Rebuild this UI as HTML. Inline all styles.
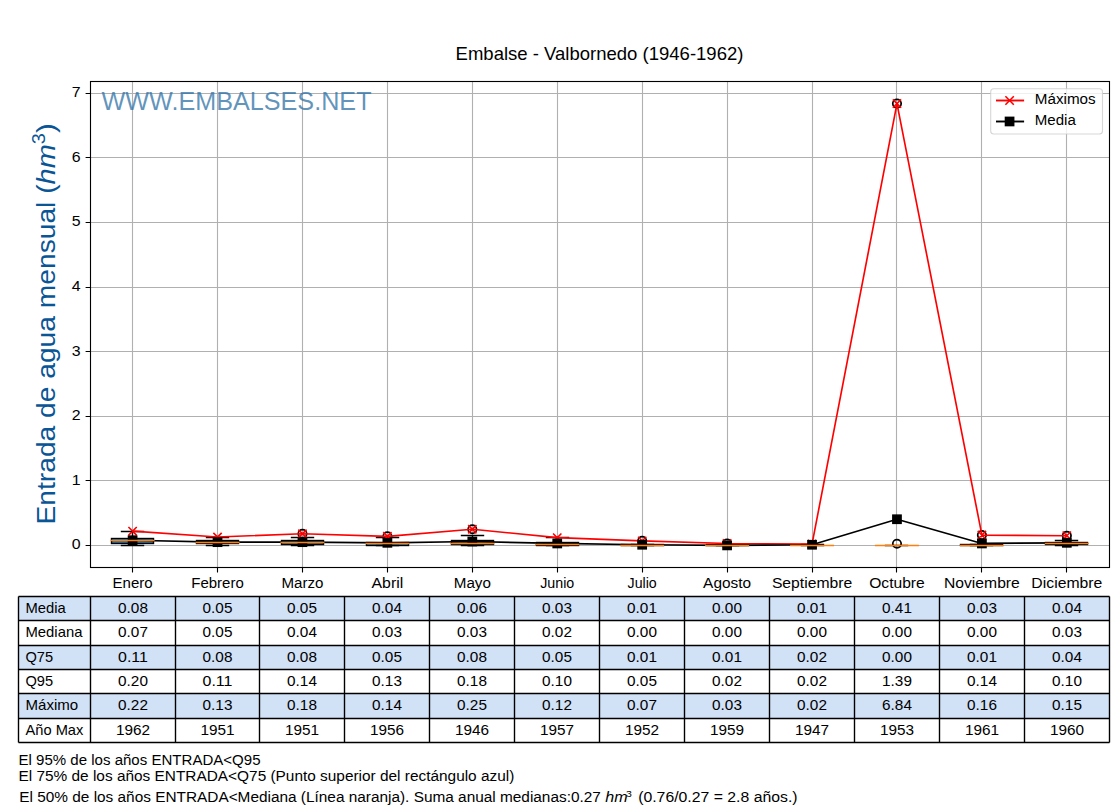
<!DOCTYPE html><html><head><meta charset="utf-8"><title>Embalse - Valbornedo</title><style>html,body{margin:0;padding:0;background:#fff;overflow:hidden;}svg{display:block;}text{font-family:"Liberation Sans",sans-serif;}</style></head><body>
<svg width="1120" height="810" viewBox="0 0 1120 810">
<rect x="0" y="0" width="1120" height="810" fill="#fff"/>
<text x="599.50" y="60.00" font-size="17.49" text-anchor="middle" fill="#000" textLength="287.86" lengthAdjust="spacingAndGlyphs">Embalse - Valbornedo (1946-1962)</text>
<path d="M132.5 81.5V567.5M217.5 81.5V567.5M302.5 81.5V567.5M387.5 81.5V567.5M472.5 81.5V567.5M557.5 81.5V567.5M642.5 81.5V567.5M727.5 81.5V567.5M812.5 81.5V567.5M896.5 81.5V567.5M981.5 81.5V567.5M1066.5 81.5V567.5M90.135 545.5H1109.5M90.135 480.5H1109.5M90.135 416.5H1109.5M90.135 351.5H1109.5M90.135 287.5H1109.5M90.135 222.5H1109.5M90.135 157.5H1109.5M90.135 93.5H1109.5" stroke="#b0b0b0" stroke-width="1.11" fill="none"/>
<text x="101.50" y="110.00" font-size="26.50" text-anchor="start" fill="#2f72a6" textLength="270.03" lengthAdjust="spacingAndGlyphs" fill-opacity="0.76">WWW.EMBALSES.NET</text>
<rect x="111.5" y="538.5" width="42" height="5.0" fill="#1f77b4" stroke="#000" stroke-width="1.39"/>
<path d="M132.5 543.5V545.5M132.5 538.5V531.5M121.5 545.5H143.5M121.5 531.5H143.5" stroke="#000" stroke-width="1.39" stroke-linecap="square" fill="none"/>
<rect x="196.5" y="540.5" width="42" height="3.0" fill="#1f77b4" stroke="#000" stroke-width="1.39"/>
<path d="M217.5 543.5V545.5M217.5 540.5V537.5M206.5 545.5H228.5M206.5 537.5H228.5" stroke="#000" stroke-width="1.39" stroke-linecap="square" fill="none"/>
<rect x="281.5" y="540.5" width="42" height="4.0" fill="#1f77b4" stroke="#000" stroke-width="1.39"/>
<path d="M302.5 544.5V545.5M302.5 540.5V537.5M291.5 545.5H313.5M291.5 537.5H313.5" stroke="#000" stroke-width="1.39" stroke-linecap="square" fill="none"/>
<circle cx="302.46" cy="533.77" r="4.2" fill="none" stroke="#000" stroke-width="1.75"/>
<rect x="366.5" y="542.5" width="42" height="3.0" fill="#1f77b4" stroke="#000" stroke-width="1.39"/>
<path d="M387.5 545.5V545.5M387.5 542.5V537.5M376.5 545.5H398.5M376.5 537.5H398.5" stroke="#000" stroke-width="1.39" stroke-linecap="square" fill="none"/>
<circle cx="387.39" cy="536.36" r="4.2" fill="none" stroke="#000" stroke-width="1.75"/>
<rect x="451.5" y="540.5" width="42" height="4.0" fill="#1f77b4" stroke="#000" stroke-width="1.39"/>
<path d="M472.5 544.5V545.5M472.5 540.5V535.5M461.5 545.5H483.5M461.5 535.5H483.5" stroke="#000" stroke-width="1.39" stroke-linecap="square" fill="none"/>
<circle cx="472.32" cy="529.25" r="4.2" fill="none" stroke="#000" stroke-width="1.75"/>
<rect x="536.5" y="542.5" width="42" height="3.0" fill="#1f77b4" stroke="#000" stroke-width="1.39"/>
<path d="M557.5 545.5V545.5M557.5 542.5V537.5M546.5 545.5H568.5M546.5 537.5H568.5" stroke="#000" stroke-width="1.39" stroke-linecap="square" fill="none"/>
<rect x="621.5" y="544.5" width="42" height="1.0" fill="#1f77b4" stroke="#000" stroke-width="1.39"/>
<path d="M642.5 545.5V545.5M642.5 544.5V544.5M631.5 545.5H653.5M631.5 544.5H653.5" stroke="#000" stroke-width="1.39" stroke-linecap="square" fill="none"/>
<circle cx="642.18" cy="540.88" r="4.2" fill="none" stroke="#000" stroke-width="1.75"/>
<rect x="706.5" y="544.5" width="42" height="1.0" fill="#1f77b4" stroke="#000" stroke-width="1.39"/>
<path d="M727.5 545.5V545.5M727.5 544.5V544.5M716.5 545.5H738.5M716.5 544.5H738.5" stroke="#000" stroke-width="1.39" stroke-linecap="square" fill="none"/>
<circle cx="727.11" cy="543.46" r="4.2" fill="none" stroke="#000" stroke-width="1.75"/>
<rect x="791.5" y="545.5" width="42" height="0.0" fill="#1f77b4" stroke="#000" stroke-width="1.39"/>
<path d="M812.5 545.5V545.5M812.5 545.5V544.5M801.5 545.5H823.5M801.5 544.5H823.5" stroke="#000" stroke-width="1.39" stroke-linecap="square" fill="none"/>
<rect x="875.5" y="545.5" width="42" height="0.0" fill="#1f77b4" stroke="#000" stroke-width="1.39"/>
<path d="M896.5 545.5V545.5M896.5 545.5V545.5M885.5 545.5H907.5M885.5 545.5H907.5" stroke="#000" stroke-width="1.39" stroke-linecap="square" fill="none"/>
<circle cx="896.97" cy="543.78" r="4.2" fill="none" stroke="#000" stroke-width="1.75"/>
<circle cx="896.97" cy="103.54" r="4.2" fill="none" stroke="#000" stroke-width="1.75"/>
<rect x="960.5" y="544.5" width="42" height="1.0" fill="#1f77b4" stroke="#000" stroke-width="1.39"/>
<path d="M981.5 545.5V545.5M981.5 544.5V544.5M970.5 545.5H992.5M970.5 544.5H992.5" stroke="#000" stroke-width="1.39" stroke-linecap="square" fill="none"/>
<circle cx="981.90" cy="535.06" r="4.2" fill="none" stroke="#000" stroke-width="1.75"/>
<rect x="1045.5" y="542.5" width="42" height="2.0" fill="#1f77b4" stroke="#000" stroke-width="1.39"/>
<path d="M1066.5 544.5V545.5M1066.5 542.5V540.5M1055.5 545.5H1077.5M1055.5 540.5H1077.5" stroke="#000" stroke-width="1.39" stroke-linecap="square" fill="none"/>
<circle cx="1066.83" cy="535.71" r="4.2" fill="none" stroke="#000" stroke-width="1.75"/>
<polyline points="132.60,531.19 217.53,537.00 302.46,533.77 387.39,536.36 472.32,529.25 557.25,537.65 642.18,540.88 727.11,543.46 812.04,544.11 896.97,103.54 981.90,535.06 1066.83,535.71" fill="none" stroke="#ff0000" stroke-width="1.65" stroke-linejoin="round"/>
<path d="M128.43 527.02L136.77 535.36M128.43 535.36L136.77 527.02M213.36 532.83L221.70 541.17M213.36 541.17L221.70 532.83M298.29 529.60L306.63 537.94M298.29 537.94L306.63 529.60M383.22 532.19L391.56 540.53M383.22 540.53L391.56 532.19M468.15 525.08L476.49 533.42M468.15 533.42L476.49 525.08M553.08 533.48L561.42 541.82M553.08 541.82L561.42 533.48M638.01 536.71L646.35 545.05M638.01 545.05L646.35 536.71M722.94 539.29L731.28 547.63M722.94 547.63L731.28 539.29M807.87 539.94L816.21 548.28M807.87 548.28L816.21 539.94M892.80 99.37L901.14 107.71M892.80 107.71L901.14 99.37M977.73 530.89L986.07 539.23M977.73 539.23L986.07 530.89M1062.66 531.54L1071.00 539.88M1062.66 539.88L1071.00 531.54" stroke="#ff0000" stroke-width="1.6" fill="none"/>
<polyline points="132.60,540.23 217.53,542.17 302.46,542.17 387.39,542.82 472.32,541.52 557.25,543.46 642.18,544.75 727.11,545.40 812.04,544.75 896.97,519.24 981.90,543.46 1066.83,542.82" fill="none" stroke="#000" stroke-width="1.7" stroke-linejoin="round"/>
<rect x="128.43" y="536.06" width="8.34" height="8.34" fill="#000" stroke="#000" stroke-width="1.39"/>
<rect x="213.36" y="538.00" width="8.34" height="8.34" fill="#000" stroke="#000" stroke-width="1.39"/>
<rect x="298.29" y="538.00" width="8.34" height="8.34" fill="#000" stroke="#000" stroke-width="1.39"/>
<rect x="383.22" y="538.65" width="8.34" height="8.34" fill="#000" stroke="#000" stroke-width="1.39"/>
<rect x="468.15" y="537.35" width="8.34" height="8.34" fill="#000" stroke="#000" stroke-width="1.39"/>
<rect x="553.08" y="539.29" width="8.34" height="8.34" fill="#000" stroke="#000" stroke-width="1.39"/>
<rect x="638.01" y="540.58" width="8.34" height="8.34" fill="#000" stroke="#000" stroke-width="1.39"/>
<rect x="722.94" y="541.23" width="8.34" height="8.34" fill="#000" stroke="#000" stroke-width="1.39"/>
<rect x="807.87" y="540.58" width="8.34" height="8.34" fill="#000" stroke="#000" stroke-width="1.39"/>
<rect x="892.80" y="515.07" width="8.34" height="8.34" fill="#000" stroke="#000" stroke-width="1.39"/>
<rect x="977.73" y="539.29" width="8.34" height="8.34" fill="#000" stroke="#000" stroke-width="1.39"/>
<rect x="1062.66" y="538.65" width="8.34" height="8.34" fill="#000" stroke="#000" stroke-width="1.39"/>
<path d="M111.37 540.5H153.83M196.30 542.5H238.76M281.23 542.5H323.69M366.16 543.5H408.62M451.09 543.5H493.55M536.02 544.5H578.48M620.95 545.5H663.41M705.88 545.5H748.34M790.81 545.5H833.27M875.74 545.5H918.20M960.67 545.5H1003.13M1045.60 543.5H1088.06" stroke="#ff7f0e" stroke-width="1.5" stroke-linecap="square" fill="none"/>
<rect x="90.5" y="81.5" width="1019" height="486.0" fill="none" stroke="#000" stroke-width="1.11"/>
<path d="M85.6 545.5H90.5M85.6 480.5H90.5M85.6 416.5H90.5M85.6 351.5H90.5M85.6 287.5H90.5M85.6 222.5H90.5M85.6 157.5H90.5M85.6 93.5H90.5M132.5 567.5V572.40M217.5 567.5V572.40M302.5 567.5V572.40M387.5 567.5V572.40M472.5 567.5V572.40M557.5 567.5V572.40M642.5 567.5V572.40M727.5 567.5V572.40M812.5 567.5V572.40M896.5 567.5V572.40M981.5 567.5V572.40M1066.5 567.5V572.40" stroke="#000" stroke-width="1.11" fill="none"/>
<text x="80.50" y="549.40" font-size="14.72" text-anchor="end" fill="#000" textLength="8.84" lengthAdjust="spacingAndGlyphs">0</text>
<text x="80.50" y="484.80" font-size="14.72" text-anchor="end" fill="#000" textLength="8.84" lengthAdjust="spacingAndGlyphs">1</text>
<text x="80.50" y="420.20" font-size="14.72" text-anchor="end" fill="#000" textLength="8.84" lengthAdjust="spacingAndGlyphs">2</text>
<text x="80.50" y="355.60" font-size="14.72" text-anchor="end" fill="#000" textLength="8.84" lengthAdjust="spacingAndGlyphs">3</text>
<text x="80.50" y="291.00" font-size="14.72" text-anchor="end" fill="#000" textLength="8.84" lengthAdjust="spacingAndGlyphs">4</text>
<text x="80.50" y="226.40" font-size="14.72" text-anchor="end" fill="#000" textLength="8.84" lengthAdjust="spacingAndGlyphs">5</text>
<text x="80.50" y="161.80" font-size="14.72" text-anchor="end" fill="#000" textLength="8.84" lengthAdjust="spacingAndGlyphs">6</text>
<text x="80.50" y="97.20" font-size="14.72" text-anchor="end" fill="#000" textLength="8.84" lengthAdjust="spacingAndGlyphs">7</text>
<text x="132.60" y="588.00" font-size="14.72" text-anchor="middle" fill="#000" textLength="40.03" lengthAdjust="spacingAndGlyphs">Enero</text>
<text x="217.53" y="588.00" font-size="14.72" text-anchor="middle" fill="#000" textLength="52.45" lengthAdjust="spacingAndGlyphs">Febrero</text>
<text x="302.46" y="588.00" font-size="14.72" text-anchor="middle" fill="#000" textLength="42.00" lengthAdjust="spacingAndGlyphs">Marzo</text>
<text x="387.39" y="588.00" font-size="14.72" text-anchor="middle" fill="#000" textLength="31.75" lengthAdjust="spacingAndGlyphs">Abril</text>
<text x="472.32" y="588.00" font-size="14.72" text-anchor="middle" fill="#000" textLength="37.21" lengthAdjust="spacingAndGlyphs">Mayo</text>
<text x="557.25" y="588.00" font-size="14.72" text-anchor="middle" fill="#000" textLength="34.06" lengthAdjust="spacingAndGlyphs">Junio</text>
<text x="642.18" y="588.00" font-size="14.72" text-anchor="middle" fill="#000" textLength="29.12" lengthAdjust="spacingAndGlyphs">Julio</text>
<text x="727.11" y="588.00" font-size="14.72" text-anchor="middle" fill="#000" textLength="48.00" lengthAdjust="spacingAndGlyphs">Agosto</text>
<text x="812.04" y="588.00" font-size="14.72" text-anchor="middle" fill="#000" textLength="80.33" lengthAdjust="spacingAndGlyphs">Septiembre</text>
<text x="896.97" y="588.00" font-size="14.72" text-anchor="middle" fill="#000" textLength="55.59" lengthAdjust="spacingAndGlyphs">Octubre</text>
<text x="981.90" y="588.00" font-size="14.72" text-anchor="middle" fill="#000" textLength="75.81" lengthAdjust="spacingAndGlyphs">Noviembre</text>
<text x="1066.83" y="588.00" font-size="14.72" text-anchor="middle" fill="#000" textLength="70.90" lengthAdjust="spacingAndGlyphs">Diciembre</text>
<g transform="translate(55,524.5) rotate(-90)">
<text x="0.00" y="0.00" font-size="26.50" text-anchor="start" fill="#0a5596" textLength="340.10" lengthAdjust="spacingAndGlyphs">Entrada de agua mensual (</text>
<text x="340.10" y="0.00" font-size="26.50" text-anchor="start" fill="#0a5596" textLength="40.20" lengthAdjust="spacingAndGlyphs" font-style="italic">hm</text>
<text x="380.30" y="-10.00" font-size="18.55" text-anchor="start" fill="#0a5596" textLength="11.13" lengthAdjust="spacingAndGlyphs">3</text>
<text x="391.43" y="0.00" font-size="26.50" text-anchor="start" fill="#0a5596" textLength="9.75" lengthAdjust="spacingAndGlyphs">)</text>
</g>
<rect x="990.7" y="88.7" width="111.8" height="45.3" rx="3" ry="3" fill="#fff" fill-opacity="0.8" stroke="#cccccc" stroke-opacity="0.8" stroke-width="1.1"/>
<path d="M996 100.5H1024.1" stroke="#ff0000" stroke-width="1.9"/>
<path d="M1005.4 96.3L1013.8 104.7M1005.4 104.7L1013.8 96.3" stroke="#ff0000" stroke-width="1.6"/>
<text x="1034.80" y="104.20" font-size="14.72" text-anchor="start" fill="#000" textLength="60.84" lengthAdjust="spacingAndGlyphs">Máximos</text>
<path d="M996 121.5H1024.1" stroke="#000" stroke-width="1.9"/>
<rect x="1005.4" y="117.3" width="8.34" height="8.34" fill="#000" stroke="#000" stroke-width="1.39"/>
<text x="1034.80" y="125.00" font-size="14.72" text-anchor="start" fill="#000" textLength="41.02" lengthAdjust="spacingAndGlyphs">Media</text>
<rect x="18.50" y="596.5" width="1091.00" height="24.00" fill="#d1e1f6"/>
<rect x="18.50" y="620.5" width="1091.00" height="25.00" fill="#ffffff"/>
<rect x="18.50" y="645.5" width="1091.00" height="24.00" fill="#d1e1f6"/>
<rect x="18.50" y="669.5" width="1091.00" height="24.00" fill="#ffffff"/>
<rect x="18.50" y="693.5" width="1091.00" height="25.00" fill="#d1e1f6"/>
<rect x="18.50" y="718.5" width="1091.00" height="24.00" fill="#ffffff"/>
<path d="M18.50 596.5H1109.50M18.50 620.5H1109.50M18.50 645.5H1109.50M18.50 669.5H1109.50M18.50 693.5H1109.50M18.50 718.5H1109.50M18.50 742.5H1109.50M18.50 596.5V742.5M90.50 596.5V742.5M175.50 596.5V742.5M259.50 596.5V742.5M344.50 596.5V742.5M429.50 596.5V742.5M514.50 596.5V742.5M599.50 596.5V742.5M684.50 596.5V742.5M769.50 596.5V742.5M854.50 596.5V742.5M939.50 596.5V742.5M1024.50 596.5V742.5M1109.50 596.5V742.5" stroke="#000" stroke-width="1.39" fill="none"/>
<text x="25.50" y="612.50" font-size="14.20" text-anchor="start" fill="#000" textLength="40.25" lengthAdjust="spacingAndGlyphs">Media</text>
<text x="133.00" y="612.50" font-size="14.20" text-anchor="middle" fill="#000" textLength="29.84" lengthAdjust="spacingAndGlyphs">0.08</text>
<text x="217.50" y="612.50" font-size="14.20" text-anchor="middle" fill="#000" textLength="29.84" lengthAdjust="spacingAndGlyphs">0.05</text>
<text x="302.00" y="612.50" font-size="14.20" text-anchor="middle" fill="#000" textLength="29.84" lengthAdjust="spacingAndGlyphs">0.05</text>
<text x="387.00" y="612.50" font-size="14.20" text-anchor="middle" fill="#000" textLength="29.84" lengthAdjust="spacingAndGlyphs">0.04</text>
<text x="472.00" y="612.50" font-size="14.20" text-anchor="middle" fill="#000" textLength="29.84" lengthAdjust="spacingAndGlyphs">0.06</text>
<text x="557.00" y="612.50" font-size="14.20" text-anchor="middle" fill="#000" textLength="29.84" lengthAdjust="spacingAndGlyphs">0.03</text>
<text x="642.00" y="612.50" font-size="14.20" text-anchor="middle" fill="#000" textLength="29.84" lengthAdjust="spacingAndGlyphs">0.01</text>
<text x="727.00" y="612.50" font-size="14.20" text-anchor="middle" fill="#000" textLength="29.84" lengthAdjust="spacingAndGlyphs">0.00</text>
<text x="812.00" y="612.50" font-size="14.20" text-anchor="middle" fill="#000" textLength="29.84" lengthAdjust="spacingAndGlyphs">0.01</text>
<text x="897.00" y="612.50" font-size="14.20" text-anchor="middle" fill="#000" textLength="29.84" lengthAdjust="spacingAndGlyphs">0.41</text>
<text x="982.00" y="612.50" font-size="14.20" text-anchor="middle" fill="#000" textLength="29.84" lengthAdjust="spacingAndGlyphs">0.03</text>
<text x="1067.00" y="612.50" font-size="14.20" text-anchor="middle" fill="#000" textLength="29.84" lengthAdjust="spacingAndGlyphs">0.04</text>
<text x="25.50" y="636.50" font-size="14.20" text-anchor="start" fill="#000" textLength="56.95" lengthAdjust="spacingAndGlyphs">Mediana</text>
<text x="133.00" y="636.50" font-size="14.20" text-anchor="middle" fill="#000" textLength="29.84" lengthAdjust="spacingAndGlyphs">0.07</text>
<text x="217.50" y="636.50" font-size="14.20" text-anchor="middle" fill="#000" textLength="29.84" lengthAdjust="spacingAndGlyphs">0.05</text>
<text x="302.00" y="636.50" font-size="14.20" text-anchor="middle" fill="#000" textLength="29.84" lengthAdjust="spacingAndGlyphs">0.04</text>
<text x="387.00" y="636.50" font-size="14.20" text-anchor="middle" fill="#000" textLength="29.84" lengthAdjust="spacingAndGlyphs">0.03</text>
<text x="472.00" y="636.50" font-size="14.20" text-anchor="middle" fill="#000" textLength="29.84" lengthAdjust="spacingAndGlyphs">0.03</text>
<text x="557.00" y="636.50" font-size="14.20" text-anchor="middle" fill="#000" textLength="29.84" lengthAdjust="spacingAndGlyphs">0.02</text>
<text x="642.00" y="636.50" font-size="14.20" text-anchor="middle" fill="#000" textLength="29.84" lengthAdjust="spacingAndGlyphs">0.00</text>
<text x="727.00" y="636.50" font-size="14.20" text-anchor="middle" fill="#000" textLength="29.84" lengthAdjust="spacingAndGlyphs">0.00</text>
<text x="812.00" y="636.50" font-size="14.20" text-anchor="middle" fill="#000" textLength="29.84" lengthAdjust="spacingAndGlyphs">0.00</text>
<text x="897.00" y="636.50" font-size="14.20" text-anchor="middle" fill="#000" textLength="29.84" lengthAdjust="spacingAndGlyphs">0.00</text>
<text x="982.00" y="636.50" font-size="14.20" text-anchor="middle" fill="#000" textLength="29.84" lengthAdjust="spacingAndGlyphs">0.00</text>
<text x="1067.00" y="636.50" font-size="14.20" text-anchor="middle" fill="#000" textLength="29.84" lengthAdjust="spacingAndGlyphs">0.03</text>
<text x="25.50" y="661.50" font-size="14.20" text-anchor="start" fill="#000" textLength="27.60" lengthAdjust="spacingAndGlyphs">Q75</text>
<text x="133.00" y="661.50" font-size="14.20" text-anchor="middle" fill="#000" textLength="29.84" lengthAdjust="spacingAndGlyphs">0.11</text>
<text x="217.50" y="661.50" font-size="14.20" text-anchor="middle" fill="#000" textLength="29.84" lengthAdjust="spacingAndGlyphs">0.08</text>
<text x="302.00" y="661.50" font-size="14.20" text-anchor="middle" fill="#000" textLength="29.84" lengthAdjust="spacingAndGlyphs">0.08</text>
<text x="387.00" y="661.50" font-size="14.20" text-anchor="middle" fill="#000" textLength="29.84" lengthAdjust="spacingAndGlyphs">0.05</text>
<text x="472.00" y="661.50" font-size="14.20" text-anchor="middle" fill="#000" textLength="29.84" lengthAdjust="spacingAndGlyphs">0.08</text>
<text x="557.00" y="661.50" font-size="14.20" text-anchor="middle" fill="#000" textLength="29.84" lengthAdjust="spacingAndGlyphs">0.05</text>
<text x="642.00" y="661.50" font-size="14.20" text-anchor="middle" fill="#000" textLength="29.84" lengthAdjust="spacingAndGlyphs">0.01</text>
<text x="727.00" y="661.50" font-size="14.20" text-anchor="middle" fill="#000" textLength="29.84" lengthAdjust="spacingAndGlyphs">0.01</text>
<text x="812.00" y="661.50" font-size="14.20" text-anchor="middle" fill="#000" textLength="29.84" lengthAdjust="spacingAndGlyphs">0.02</text>
<text x="897.00" y="661.50" font-size="14.20" text-anchor="middle" fill="#000" textLength="29.84" lengthAdjust="spacingAndGlyphs">0.00</text>
<text x="982.00" y="661.50" font-size="14.20" text-anchor="middle" fill="#000" textLength="29.84" lengthAdjust="spacingAndGlyphs">0.01</text>
<text x="1067.00" y="661.50" font-size="14.20" text-anchor="middle" fill="#000" textLength="29.84" lengthAdjust="spacingAndGlyphs">0.04</text>
<text x="25.50" y="685.50" font-size="14.20" text-anchor="start" fill="#000" textLength="27.60" lengthAdjust="spacingAndGlyphs">Q95</text>
<text x="133.00" y="685.50" font-size="14.20" text-anchor="middle" fill="#000" textLength="29.84" lengthAdjust="spacingAndGlyphs">0.20</text>
<text x="217.50" y="685.50" font-size="14.20" text-anchor="middle" fill="#000" textLength="29.84" lengthAdjust="spacingAndGlyphs">0.11</text>
<text x="302.00" y="685.50" font-size="14.20" text-anchor="middle" fill="#000" textLength="29.84" lengthAdjust="spacingAndGlyphs">0.14</text>
<text x="387.00" y="685.50" font-size="14.20" text-anchor="middle" fill="#000" textLength="29.84" lengthAdjust="spacingAndGlyphs">0.13</text>
<text x="472.00" y="685.50" font-size="14.20" text-anchor="middle" fill="#000" textLength="29.84" lengthAdjust="spacingAndGlyphs">0.18</text>
<text x="557.00" y="685.50" font-size="14.20" text-anchor="middle" fill="#000" textLength="29.84" lengthAdjust="spacingAndGlyphs">0.10</text>
<text x="642.00" y="685.50" font-size="14.20" text-anchor="middle" fill="#000" textLength="29.84" lengthAdjust="spacingAndGlyphs">0.05</text>
<text x="727.00" y="685.50" font-size="14.20" text-anchor="middle" fill="#000" textLength="29.84" lengthAdjust="spacingAndGlyphs">0.02</text>
<text x="812.00" y="685.50" font-size="14.20" text-anchor="middle" fill="#000" textLength="29.84" lengthAdjust="spacingAndGlyphs">0.02</text>
<text x="897.00" y="685.50" font-size="14.20" text-anchor="middle" fill="#000" textLength="29.84" lengthAdjust="spacingAndGlyphs">1.39</text>
<text x="982.00" y="685.50" font-size="14.20" text-anchor="middle" fill="#000" textLength="29.84" lengthAdjust="spacingAndGlyphs">0.14</text>
<text x="1067.00" y="685.50" font-size="14.20" text-anchor="middle" fill="#000" textLength="29.84" lengthAdjust="spacingAndGlyphs">0.10</text>
<text x="25.50" y="709.50" font-size="14.20" text-anchor="start" fill="#000" textLength="52.68" lengthAdjust="spacingAndGlyphs">Máximo</text>
<text x="133.00" y="709.50" font-size="14.20" text-anchor="middle" fill="#000" textLength="29.84" lengthAdjust="spacingAndGlyphs">0.22</text>
<text x="217.50" y="709.50" font-size="14.20" text-anchor="middle" fill="#000" textLength="29.84" lengthAdjust="spacingAndGlyphs">0.13</text>
<text x="302.00" y="709.50" font-size="14.20" text-anchor="middle" fill="#000" textLength="29.84" lengthAdjust="spacingAndGlyphs">0.18</text>
<text x="387.00" y="709.50" font-size="14.20" text-anchor="middle" fill="#000" textLength="29.84" lengthAdjust="spacingAndGlyphs">0.14</text>
<text x="472.00" y="709.50" font-size="14.20" text-anchor="middle" fill="#000" textLength="29.84" lengthAdjust="spacingAndGlyphs">0.25</text>
<text x="557.00" y="709.50" font-size="14.20" text-anchor="middle" fill="#000" textLength="29.84" lengthAdjust="spacingAndGlyphs">0.12</text>
<text x="642.00" y="709.50" font-size="14.20" text-anchor="middle" fill="#000" textLength="29.84" lengthAdjust="spacingAndGlyphs">0.07</text>
<text x="727.00" y="709.50" font-size="14.20" text-anchor="middle" fill="#000" textLength="29.84" lengthAdjust="spacingAndGlyphs">0.03</text>
<text x="812.00" y="709.50" font-size="14.20" text-anchor="middle" fill="#000" textLength="29.84" lengthAdjust="spacingAndGlyphs">0.02</text>
<text x="897.00" y="709.50" font-size="14.20" text-anchor="middle" fill="#000" textLength="29.84" lengthAdjust="spacingAndGlyphs">6.84</text>
<text x="982.00" y="709.50" font-size="14.20" text-anchor="middle" fill="#000" textLength="29.84" lengthAdjust="spacingAndGlyphs">0.16</text>
<text x="1067.00" y="709.50" font-size="14.20" text-anchor="middle" fill="#000" textLength="29.84" lengthAdjust="spacingAndGlyphs">0.15</text>
<text x="25.50" y="734.50" font-size="14.20" text-anchor="start" fill="#000" textLength="57.82" lengthAdjust="spacingAndGlyphs">Año Max</text>
<text x="133.00" y="734.50" font-size="14.20" text-anchor="middle" fill="#000" textLength="34.10" lengthAdjust="spacingAndGlyphs">1962</text>
<text x="217.50" y="734.50" font-size="14.20" text-anchor="middle" fill="#000" textLength="34.10" lengthAdjust="spacingAndGlyphs">1951</text>
<text x="302.00" y="734.50" font-size="14.20" text-anchor="middle" fill="#000" textLength="34.10" lengthAdjust="spacingAndGlyphs">1951</text>
<text x="387.00" y="734.50" font-size="14.20" text-anchor="middle" fill="#000" textLength="34.10" lengthAdjust="spacingAndGlyphs">1956</text>
<text x="472.00" y="734.50" font-size="14.20" text-anchor="middle" fill="#000" textLength="34.10" lengthAdjust="spacingAndGlyphs">1946</text>
<text x="557.00" y="734.50" font-size="14.20" text-anchor="middle" fill="#000" textLength="34.10" lengthAdjust="spacingAndGlyphs">1957</text>
<text x="642.00" y="734.50" font-size="14.20" text-anchor="middle" fill="#000" textLength="34.10" lengthAdjust="spacingAndGlyphs">1952</text>
<text x="727.00" y="734.50" font-size="14.20" text-anchor="middle" fill="#000" textLength="34.10" lengthAdjust="spacingAndGlyphs">1959</text>
<text x="812.00" y="734.50" font-size="14.20" text-anchor="middle" fill="#000" textLength="34.10" lengthAdjust="spacingAndGlyphs">1947</text>
<text x="897.00" y="734.50" font-size="14.20" text-anchor="middle" fill="#000" textLength="34.10" lengthAdjust="spacingAndGlyphs">1953</text>
<text x="982.00" y="734.50" font-size="14.20" text-anchor="middle" fill="#000" textLength="34.10" lengthAdjust="spacingAndGlyphs">1961</text>
<text x="1067.00" y="734.50" font-size="14.20" text-anchor="middle" fill="#000" textLength="34.10" lengthAdjust="spacingAndGlyphs">1960</text>
<text x="18.50" y="764.80" font-size="14.72" text-anchor="start" fill="#000" textLength="242.03" lengthAdjust="spacingAndGlyphs">El 95% de los años ENTRADA&lt;Q95</text>
<text x="18.50" y="780.70" font-size="14.72" text-anchor="start" fill="#000" textLength="495.83" lengthAdjust="spacingAndGlyphs">El 75% de los años ENTRADA&lt;Q75 (Punto superior del rectángulo azul)</text>
<text x="19.30" y="801.60" font-size="14.72" text-anchor="start" fill="#000" textLength="581.54" lengthAdjust="spacingAndGlyphs">El 50% de los años ENTRADA&lt;Mediana (Línea naranja). Suma anual medianas:0.27</text>
<text x="605.26" y="801.60" font-size="14.72" text-anchor="start" fill="#000" textLength="22.33" lengthAdjust="spacingAndGlyphs" font-style="italic">hm</text>
<text x="626.09" y="796.50" font-size="9.75" text-anchor="start" fill="#000" textLength="5.85" lengthAdjust="spacingAndGlyphs">3</text>
<text x="638.20" y="801.60" font-size="14.72" text-anchor="start" fill="#000" textLength="159.42" lengthAdjust="spacingAndGlyphs">(0.76/0.27 = 2.8 años.)</text>
</svg></body></html>
